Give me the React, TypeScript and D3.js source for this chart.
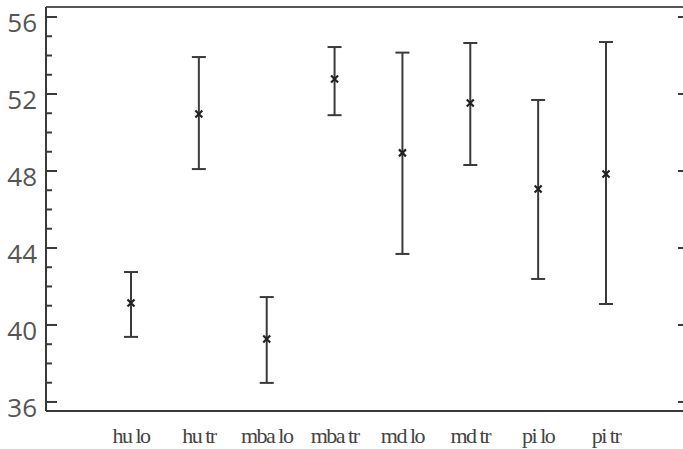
import React from "react";
import * as d3 from "d3";

const categories = ["hu lo", "hu tr", "mba lo", "mba tr", "md lo", "md tr", "pi lo", "pi tr"];
const means = [41.14, 50.96, 39.27, 52.78, 48.94, 51.53, 47.06, 47.84];
const upper = [42.75, 53.92, 41.45, 54.44, 54.15, 54.65, 51.69, 54.7];
const lower = [39.38, 48.1, 36.99, 50.9, 43.69, 48.31, 42.39, 41.09];
const majorTicks = [36, 40, 44, 48, 52, 56];
const minorTicks = d3.range(36, 57, 1).filter((v) => v % 4 !== 0);

const width = 683;
const height = 449;
const margin = { top: 7, right: -2, bottom: 38, left: 46 };

export default function App() {
  const plotRight = width - margin.right;
  const plotBottom = height - margin.bottom;

  const y = d3
    .scaleLinear()
    .domain([35.53, 56.52])
    .range([plotBottom, margin.top]);

  const x = d3
    .scalePoint<string>()
    .domain(categories)
    .range([131, 606]);

  const ink = "#3a3a3a";

  return (
    <div style={{ position: "absolute", left: 0, top: 0, width, height, overflow: "hidden" }}>
      <svg width={width} height={height} style={{ display: "block", background: "#fff" }}>
        {/* frame */}
        <line x1={margin.left} x2={plotRight} y1={margin.top} y2={margin.top} stroke="#555" strokeWidth={2} />
        <line x1={margin.left} x2={plotRight} y1={plotBottom} y2={plotBottom} stroke={ink} strokeWidth={2} />
        <line x1={margin.left} x2={margin.left} y1={margin.top} y2={plotBottom} stroke={ink} strokeWidth={2} />

        {/* ticks, left and right */}
        {majorTicks.map((t) => (
          <g key={"M" + t}>
            <line x1={margin.left} x2={margin.left + 11} y1={y(t)} y2={y(t)} stroke={ink} strokeWidth={2} />
            <line x1={width} x2={width - 5} y1={y(t)} y2={y(t)} stroke={ink} strokeWidth={2} />
            <text
              x={37}
              y={y(t)}
              dy={5}
              textAnchor="end"
              dominantBaseline="central"
              fontFamily="Open Sans"
              fontSize={26}
              fill="#555"
            >
              {t}
            </text>
          </g>
        ))}
        {minorTicks.map((t) => (
          <line key={"m" + t} x1={margin.left} x2={margin.left + 6} y1={y(t)} y2={y(t)} stroke={ink} strokeWidth={2} />
        ))}

        {/* error bars */}
        {categories.map((c, i) => {
          const cx = x(c)!;
          const my = y(means[i]);
          return (
            <g key={c}>
              <line x1={cx} x2={cx} y1={y(upper[i])} y2={y(lower[i])} stroke={ink} strokeWidth={2} />
              <line x1={cx - 7} x2={cx + 7} y1={y(upper[i])} y2={y(upper[i])} stroke={ink} strokeWidth={2} />
              <line x1={cx - 7} x2={cx + 7} y1={y(lower[i])} y2={y(lower[i])} stroke={ink} strokeWidth={2} />
              <path
                d={`M${cx - 3.5},${my - 3.5}L${cx + 3.5},${my + 3.5}M${cx - 3.5},${my + 3.5}L${cx + 3.5},${my - 3.5}`}
                stroke="#222"
                strokeWidth={2.2}
              />
            </g>
          );
        })}

        {/* category labels */}
        {categories.map((c) => (
          <text
            key={"l" + c}
            x={x(c)!}
            y={443}
            textAnchor="middle"
            fontFamily="Liberation Serif"
            fontSize={22}
            letterSpacing={-1.5}
            fill="#444"
          >
            {c}
          </text>
        ))}
      </svg>
    </div>
  );
}
